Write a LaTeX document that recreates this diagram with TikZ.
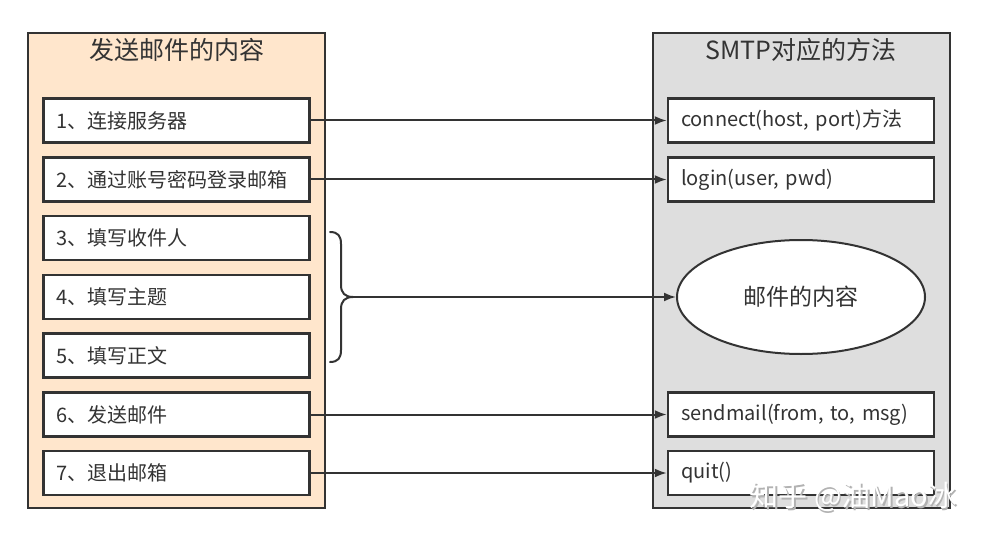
\documentclass[tikz,border=0pt]{standalone}
\usepackage{fontspec}
\setmainfont{Noto Sans CJK SC}
\usepackage{tikz}
\usetikzlibrary{arrows.meta, shapes, positioning, calc}
\definecolor{SendOrange}{RGB}{255,230,204}
\definecolor{SmtpGrau}{RGB}{222,222,222}
\definecolor{LineGrau}{RGB}{51,51,51}

\tikzset{
  panel/.style={draw=LineGrau, line width=2pt, inner sep=0pt, minimum width=297pt, minimum height=475pt},
  item/.style={draw=LineGrau, fill=white, line width=2.5pt, inner xsep=13pt, inner ysep=0pt,
               minimum height=44pt, text width=240pt, align=left, text=LineGrau,
               font=\fontsize{20}{24}\selectfont},
  title/.style={text=LineGrau, font=\fontsize{25}{30}\selectfont},
  link/.style={draw=LineGrau, line width=2pt, -{Latex[length=12pt, width=9pt]}},
}

\begin{document}
\begin{tikzpicture}[x=1pt, y=-1pt]
    \useasboundingbox (0,0) rectangle (987,540);

    % the two columns
    \node[panel, fill=SendOrange] (LP) at (176.5,270.5) {};
    \node[panel, fill=SmtpGrau]   (RP) at (801,270.5)   {};
    \node[title] (LT) at (176.5,50) {发送邮件的内容};
    \node[title] (RT) at (801,50)   {SMTP对应的方法};

    % steps
    \node[item] (L1) at (176.5,120.5) {1、连接服务器};
    \node[item] (L2) at (176.5,179.5) {2、通过账号密码登录邮箱};
    \node[item] (L3) at (176.5,238)   {3、填写收件人};
    \node[item] (L4) at (176.5,297)   {4、填写主题};
    \node[item] (L5) at (176.5,355.5) {5、填写正文};
    \node[item] (L6) at (176.5,414.5) {6、发送邮件};
    \node[item] (L7) at (176.5,473)   {7、退出邮箱};

    % methods
    \node[item] (R1) at (801,120.5) {connect(host, port)方法};
    \node[item] (R2) at (801,179.5) {login(user, pwd)};
    \node[item] (R6) at (801,414.5) {sendmail(from, to, msg)};
    \node[item] (R7) at (801,473)   {quit()};
    \node[shape=ellipse, draw=LineGrau, fill=white, line width=2pt, inner sep=0pt,
          minimum width=248pt, minimum height=114pt, text=LineGrau,
          font=\fontsize{23}{28}\selectfont] (E) at (801,297) {邮件的内容};

    % brace over steps 3-5
    \draw[LineGrau, line width=2pt, line join=round, line cap=round]
        (330,232) .. controls (338,232) and (341,236) .. (341,244) -- (341,285)
        .. controls (341,293) and (345,297) .. (353,297)
        .. controls (345,297) and (341,301) .. (341,309) -- (341,350)
        .. controls (341,358) and (338,362) .. (330,362);
    \coordinate (T) at (353,297);

    \draw[link] (L1) -- (R1);
    \draw[link] (L2) -- (R2);
    \draw[link] (T)  -- (E);
    \draw[link] (L6) -- (R6);
    \draw[link] (L7) -- (R7);

    \node[text=gray!60, font=\fontsize{29}{34}\selectfont] (WS) at (855,498.5) {知乎 @油Mao冰};
    \node[text=white,   font=\fontsize{29}{34}\selectfont] (W)  at (853.5,497)   {知乎 @油Mao冰};
\end{tikzpicture}
\end{document}
